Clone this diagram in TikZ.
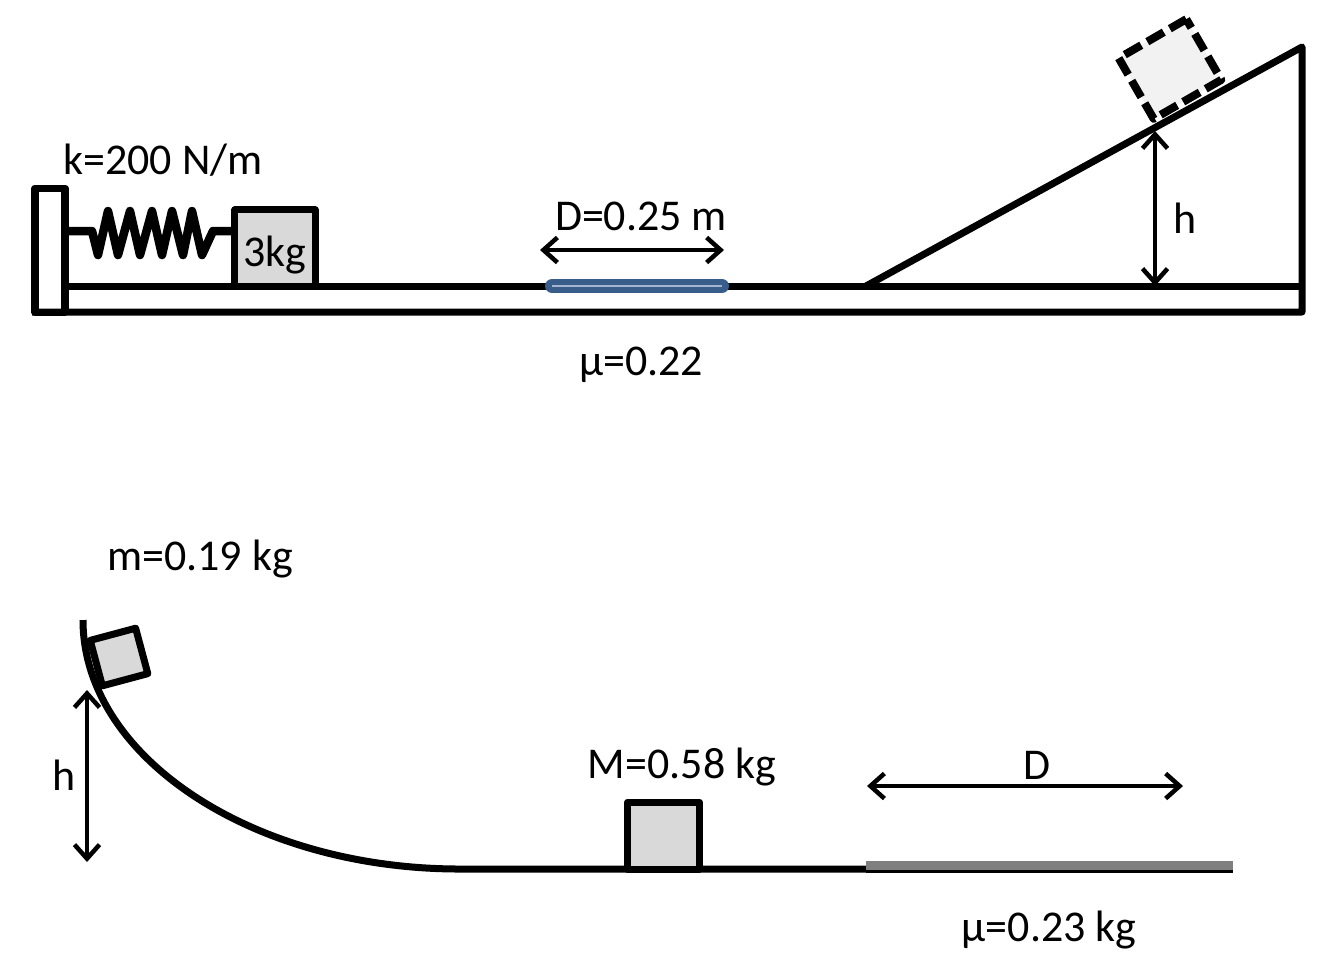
\documentclass[tikz,border=0pt]{standalone}
\usepackage{fontspec}
\usepackage{xcolor}
\usepackage{tikz}
\usetikzlibrary{arrows.meta}
\setmainfont{Carlito}
\definecolor{blockgray}{HTML}{D9D9D9}
\definecolor{ghostgray}{HTML}{F2F2F2}
\definecolor{stripblue}{HTML}{385D8A}
\definecolor{stripline}{HTML}{A5B4CC}
\definecolor{stripgray}{HTML}{7F7F7F}
\tikzset{
  thick line/.style={line width=0.07cm, line join=round},
  block/.style={draw, thick line, fill=blockgray, inner sep=0pt},
  span/.style={line width=0.045cm, {Straight Barb[length=0.14cm,width=0.25cm]}-{Straight Barb[length=0.14cm,width=0.25cm]}},
  every node/.style={font=\fontsize{12.5}{14}\selectfont}
}
\begin{document}
\begin{tikzpicture}[x=0.01cm,y=-0.01cm]
\useasboundingbox (0,0) rectangle (1325,975);

\coordinate (w1) at (35,188);
\coordinate (w2) at (65,312);
\coordinate (s) at (65,231);
\coordinate (base1) at (65,286);
\coordinate (base2) at (1302,286);
\coordinate (floor1) at (32,312);
\coordinate (floor2) at (1302,312);
\coordinate (r) at (866,286);
\coordinate (top) at (1302,47);

\draw[thick line] (w1) rectangle (w2);
\draw[thick line] (base1)--(base2);
\draw[thick line] (floor1)--(floor2)--(top)--(r);
\draw[line width=0.085cm, line join=round] (s)--(92,231)--(98,255)--(108,211)--(118,255)--(130,211)--(140,255)--(152,211)--(162,255)--(172,211)--(183,255)--(192,211)--(202,255)--(213,231)--(235,231);

\node[block, minimum width=0.8cm, minimum height=0.76cm] (a) at (275,248) {};
\node (b) at (275,255) {3kg};
\node (c) at (163,160) {k=200 N/m};

\coordinate (f1) at (552,286);
\coordinate (f2) at (722,286);
\draw[line width=0.14cm, stripblue, line cap=round] (f1)--(f2);
\draw[line width=0.012cm, stripline] (f1)--(f2);

\coordinate (d1) at (540,250);
\coordinate (d2) at (724,250);
\draw[span] (d1)--(d2);
\node (d) at (641,216) {D=0.25 m};
\node (e) at (641,365) {μ=0.22};

\node[block, fill=ghostgray, rotate=30, minimum width=0.78cm, minimum height=0.7cm, line width=0.08cm, dash pattern=on 0.19cm off 0.07cm] (g) at (1170,69) {};
\coordinate (h1) at (1155,131);
\coordinate (h2) at (1155,286);
\draw[span] (h1)--(h2);
\node (h) at (1185,218) {h};

\node (m) at (200,559) {m=0.19 kg};
\coordinate (t) at (83,620);
\coordinate (u) at (460,869);
\coordinate (v) at (866,869);
\draw[thick line] (t) .. controls (83,757) and (253,869) .. (u)--(v);
\node[block, rotate=15, minimum width=0.47cm, minimum height=0.47cm] (n) at (119,657) {};

\coordinate (p1) at (87,690);
\coordinate (p2) at (87,862);
\draw[span] (p1)--(p2);
\node (q) at (64,775) {h};

\node[block, minimum width=0.72cm, minimum height=0.67cm] (k) at (663.5,835.5) {};
\node (l) at (682,767) {M=0.58 kg};

\coordinate (x1) at (867,786);
\coordinate (x2) at (1183,786);
\draw[span] (x1)--(x2);
\node (x) at (1037,765) {D};

\coordinate (y1) at (866,871.5);
\coordinate (y2) at (1233,871.5);
\draw[line width=0.03cm] (y1)--(y2);
\coordinate (z1) at (866,865.5);
\coordinate (z2) at (1233,865.5);
\draw[line width=0.09cm, stripgray] (z1)--(z2);
\node (o) at (1049,930) {μ=0.23 kg};
\end{tikzpicture}
\end{document}
